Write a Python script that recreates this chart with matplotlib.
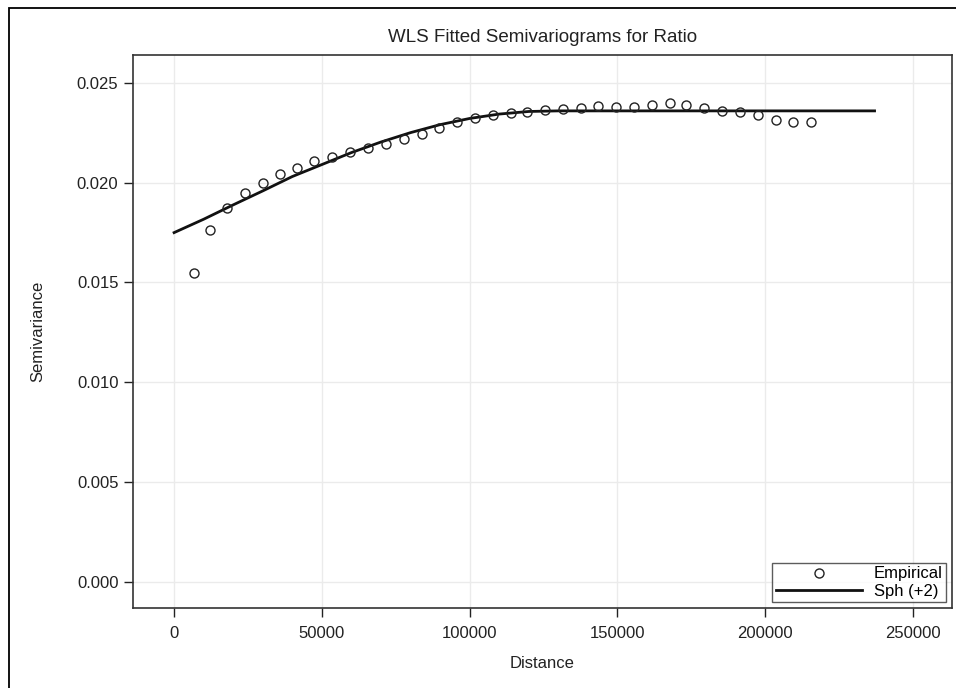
import matplotlib
matplotlib.use("Agg")
import matplotlib.pyplot as plt
from matplotlib.patches import Rectangle

plt.rcParams['font.family'] = ['Liberation Sans', 'DejaVu Sans']

# empirical semivariogram (lag distance, semivariance)
lag_dist = [6800, 12300, 18000, 24100, 30200, 35800, 41700, 47400, 53500, 59500,
            65600, 71700, 77700, 83900, 89600, 95600, 101700, 107800, 113900, 119300,
            125400, 131500, 137600, 143400, 149500, 155600, 161700, 167700, 173200,
            179300, 185400, 191500, 197600, 203700, 209300, 215400]
semivar = [0.01548, 0.01760, 0.01870, 0.01949, 0.02000, 0.02042, 0.02072, 0.02110,
           0.02130, 0.02151, 0.02172, 0.02193, 0.02217, 0.02242, 0.02272, 0.02301,
           0.02322, 0.02339, 0.02346, 0.02353, 0.02361, 0.02368, 0.02373, 0.02381,
           0.02379, 0.02379, 0.02389, 0.02396, 0.02389, 0.02373, 0.02359, 0.02353,
           0.02336, 0.02314, 0.02302, 0.02302]

# fitted spherical model
fit_dist = [0, 10000, 20000, 30000, 40000, 50000, 60000, 70000, 80000, 90000,
            100000, 110000, 120000, 130000, 237000]
fit_val = [0.01749, 0.01816, 0.01888, 0.01958, 0.02030, 0.02090, 0.02150, 0.02203,
           0.02250, 0.02290, 0.02321, 0.02343, 0.02356, 0.02359, 0.02359]

xticks = [0, 50000, 100000, 150000, 200000, 250000]
yticks = [0.000, 0.005, 0.010, 0.015, 0.020, 0.025]

fig = plt.figure(figsize=(9.56, 6.88), dpi=100)
ax = fig.add_axes([133 / 956, 1 - 608 / 688, (952 - 133) / 956, (608 - 55) / 688])

# outer frame
fig.patches.append(Rectangle((9 / 956, -0.1), 1.2, 1 - 8 / 688 + 0.1,
                             transform=fig.transFigure, fill=False,
                             edgecolor='black', linewidth=1.3))

ax.plot(lag_dist, semivar, linestyle='none', marker='o', markersize=6.5,
        markerfacecolor='none', markeredgecolor='#222222', markeredgewidth=1.0,
        label='Empirical', zorder=3)
ax.plot(fit_dist, fit_val, color='#111111', linewidth=2.0, label='Sph (+2)', zorder=2)

ax.set_xlim(-13900, 263200)
ax.set_ylim(-0.00132, 0.02639)
ax.set_xticks(xticks)
ax.set_yticks(yticks)
ax.set_xticklabels([str(t) for t in xticks])
ax.set_yticklabels(['%.3f' % t for t in yticks])
ax.grid(True, color='#ebebeb', linewidth=1.0)
ax.set_axisbelow(True)
for s in ax.spines.values():
    s.set_linewidth(1.2)
    s.set_color('#333333')
ax.tick_params(direction='out', length=6.5, width=1.0, labelsize=12, colors='#222222')
ax.tick_params(axis='x', pad=6.5)
ax.tick_params(axis='y', pad=4)

ax.set_title('WLS Fitted Semivariograms for Ratio', fontsize=13.5, pad=9, color='#222222')
ax.set_xlabel('Distance', fontsize=12, labelpad=11, color='#222222')
ax.set_ylabel('Semivariance', fontsize=12, labelpad=23, color='#222222')

leg = ax.legend(loc='lower right', fontsize=12, frameon=True, fancybox=False,
                edgecolor='#333333', borderaxespad=0.35, handlelength=5.2,
                handletextpad=0.7, borderpad=0.2, labelspacing=0.15)
leg.get_frame().set_linewidth(1.0)

fig.savefig('out.png', dpi=100)
